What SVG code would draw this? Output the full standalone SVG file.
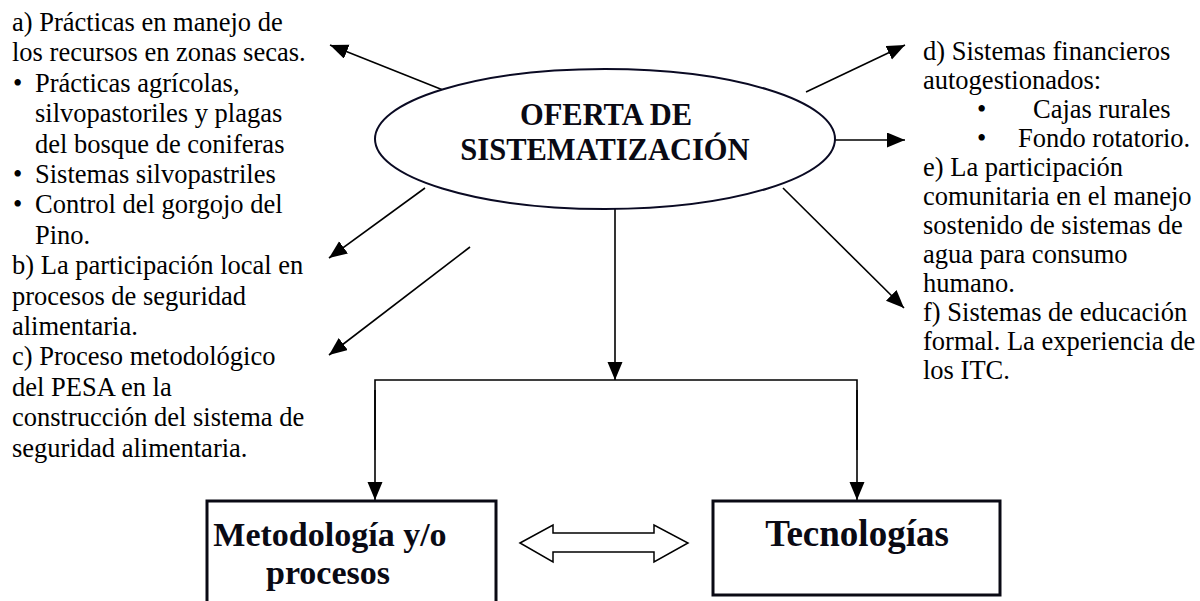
<svg xmlns="http://www.w3.org/2000/svg" width="1200" height="601" viewBox="0 0 1200 601">
<defs>
<marker id="ah" markerUnits="userSpaceOnUse" markerWidth="19" markerHeight="16" refX="18" refY="7.5" orient="auto">
<path d="M0,0 L18,7.5 L0,15 z" fill="#000"/>
</marker>
<style>
text.t{font-family:"Liberation Serif","Times New Roman",serif;font-size:26.5px;fill:#000}
text.b{font-family:"Liberation Serif","Times New Roman",serif;font-weight:bold;fill:#0a0a14}
.c{stroke:#000;stroke-width:1.6;fill:none}
.a{marker-end:url(#ah)}
.box{fill:#fff;stroke:#0a0a14;stroke-width:3}
</style>
</defs>
<rect width="1200" height="601" fill="#fff"/>

<g id="connectors">
<line class="c a" x1="448" y1="92" x2="330" y2="45"/>
<line class="c a" x1="425" y1="188" x2="329" y2="258"/>
<line class="c a" x1="470" y1="247" x2="329" y2="355"/>
<line class="c a" x1="806" y1="92" x2="905" y2="45"/>
<line class="c a" x1="835" y1="140" x2="905" y2="140"/>
<line class="c a" x1="783" y1="188" x2="904" y2="308"/>
<line class="c a" x1="615" y1="209" x2="615" y2="380"/>
<polyline class="c" points="375,450 375,380 857,380 857,450"/>
<line class="c a" x1="375" y1="390" x2="375" y2="500"/>
<line class="c a" x1="857" y1="390" x2="857" y2="500"/>
<polygon id="double-arrow" points="520,543 553,525 553,533 654,533 654,525 688,543 654,562 654,552 553,552 553,562" fill="#fff" stroke="#000" stroke-width="1.5"/>
</g>

<g id="oferta">
<ellipse cx="605" cy="139" rx="230" ry="70" fill="#fff" stroke="#0a0a23" stroke-width="2"/>
<text class="b" font-size="30.5" text-anchor="middle" x="606" y="125">OFERTA DE</text>
<text class="b" font-size="30.5" text-anchor="middle" x="605" y="160">SISTEMATIZACIÓN</text>
</g>

<g id="metodologia">
<rect class="box" x="207" y="501" width="289" height="115"/>
<text class="b" font-size="34" text-anchor="middle" x="330" y="546">Metodología y/o</text>
<text class="b" font-size="34" text-anchor="middle" x="328" y="584">procesos</text>
</g>

<g id="tecnologias">
<rect class="box" x="713" y="501" width="287" height="94"/>
<text class="b" font-size="37" text-anchor="middle" x="857" y="546">Tecnologías</text>
</g>

<g id="lista-izquierda" font-family="Liberation Serif, Times New Roman, serif" font-size="26.5">
<text class="t" x="12" y="31">a) Prácticas en manejo de</text>
<text class="t" x="12" y="61">los recursos en zonas secas.</text>
<text class="t" x="13" y="92">•</text><text class="t" x="35" y="92">Prácticas agrícolas,</text>
<text class="t" x="35" y="122">silvopastoriles y plagas</text>
<text class="t" x="35" y="153">del bosque de coniferas</text>
<text class="t" x="13" y="183">•</text><text class="t" x="35" y="183">Sistemas silvopastriles</text>
<text class="t" x="13" y="213">•</text><text class="t" x="35" y="213">Control del gorgojo del</text>
<text class="t" x="35" y="244">Pino.</text>
<text class="t" x="12" y="274">b) La participación local en</text>
<text class="t" x="12" y="305">procesos de seguridad</text>
<text class="t" x="12" y="335">alimentaria.</text>
<text class="t" x="12" y="365">c) Proceso metodológico</text>
<text class="t" x="12" y="396">del PESA en la</text>
<text class="t" x="12" y="426">construcción del sistema de</text>
<text class="t" x="12" y="457">seguridad alimentaria.</text>
</g>

<g id="lista-derecha" font-family="Liberation Serif, Times New Roman, serif" font-size="26.5">
<text class="t" x="923" y="60">d) Sistemas financieros</text>
<text class="t" x="923" y="89">autogestionados:</text>
<text class="t" x="977" y="118">•</text><text class="t" x="1033" y="118">Cajas rurales</text>
<text class="t" x="977" y="147">•</text><text class="t" x="1018" y="147">Fondo rotatorio.</text>
<text class="t" x="923" y="176">e) La participación</text>
<text class="t" x="923" y="205">comunitaria en el manejo</text>
<text class="t" x="923" y="234">sostenido de sistemas de</text>
<text class="t" x="923" y="263">agua para consumo</text>
<text class="t" x="923" y="292">humano.</text>
<text class="t" x="923" y="321">f) Sistemas de educación</text>
<text class="t" x="923" y="350">formal. La experiencia de</text>
<text class="t" x="923" y="379">los ITC.</text>
</g>
</svg>
